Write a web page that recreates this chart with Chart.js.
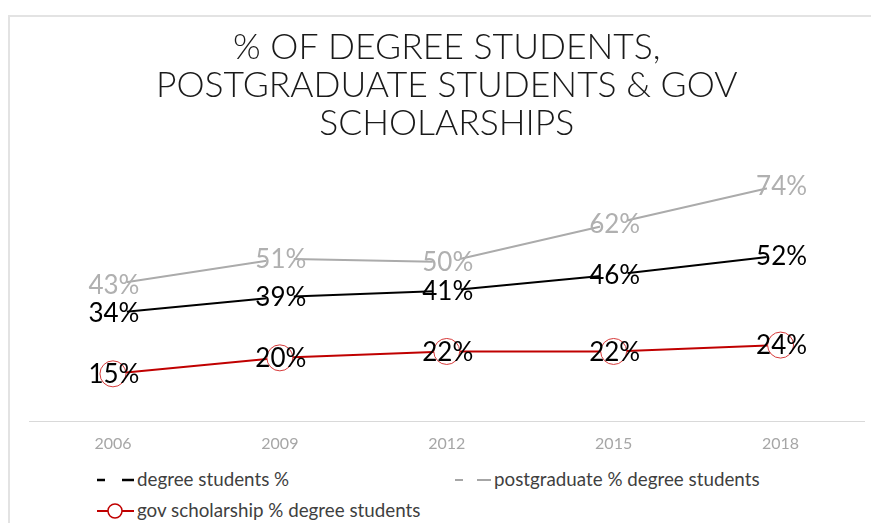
<!DOCTYPE html>
<html>
<head>
<meta charset="utf-8">
<script src="https://cdn.jsdelivr.net/npm/chart.js@4"></script>
<style>
	body { margin: 0; background: #fff; overflow: hidden; }
	#frame { position: absolute; left: 8px; top: 15px; width: 900px; height: 600px; border: 2px solid #e3e3e3; }
	#wrap { position: absolute; left: 0; top: 0; width: 878px; height: 465px; }
	.leg { position: absolute; font-family: Lato, sans-serif; font-size: 18.8px; color: #3f3f3f; white-space: nowrap; line-height: 20px; }
	.leg svg { vertical-align: middle; margin-right: 3px; position: relative; top: -1px; }
</style>
</head>
<body>
<div id="frame"></div>
<div id="wrap"><canvas id="lineChart"></canvas></div>

<div class="leg" style="left:97px; top:469px;">
	<svg width="37" height="16"><line x1="0" y1="8" x2="8" y2="8" stroke="#000" stroke-width="2.5"/><line x1="25" y1="8" x2="37" y2="8" stroke="#000" stroke-width="2.5"/></svg>degree students %
</div>
<div class="leg" style="left:455px; top:469px;">
	<svg width="36" height="16"><line x1="0" y1="8" x2="8" y2="8" stroke="#a6a6a6" stroke-width="2"/><line x1="22" y1="8" x2="36" y2="8" stroke="#a6a6a6" stroke-width="2"/></svg>postgraduate % degree students
</div>
<div class="leg" style="left:97px; top:500px;">
	<svg width="37" height="16"><line x1="0" y1="8" x2="11" y2="8" stroke="#c00000" stroke-width="2"/><circle cx="18" cy="8" r="7" fill="#fff" stroke="#c00000" stroke-width="1.5"/><line x1="25" y1="8" x2="37" y2="8" stroke="#c00000" stroke-width="2"/></svg>gov scholarship % degree students
</div>

<script>
// data
const years = ["2006", "2009", "2012", "2015", "2018"];
const degreeStudents = [34, 39, 41, 46, 52];
const postgraduate = [43, 51, 50, 62, 74];
const govScholarship = [15, 20, 22, 22, 24];

const labelColors = ["#000000", "#b0b0b0", "#000000"];

// draws "xx%" centred on every point
const valueLabels = {
	id: "valueLabels",
	afterDatasetsDraw(chart) {
		const ctx = chart.ctx;
		ctx.save();
		ctx.font = "26px Lato";
		ctx.textAlign = "center";
		ctx.textBaseline = "middle";
		chart.data.datasets.forEach(function (ds, i) {
			ctx.fillStyle = labelColors[i];
			chart.getDatasetMeta(i).data.forEach(function (pt, j) {
				ctx.fillText(ds.data[j] + "%", pt.x + 1, pt.y + 1);
			});
		});
		ctx.restore();
	},
};

const ctxLine = document.getElementById("lineChart").getContext("2d");

new Chart(ctxLine, {
	type: "line",
	data: {
		labels: years,
		datasets: [
			{
				label: "degree students %",
				data: degreeStudents,
				borderColor: "#000000",
				borderWidth: 2,
				pointRadius: 14,
				pointBackgroundColor: "#ffffff",
				pointBorderColor: "rgba(0,0,0,0)",
				pointBorderWidth: 0,
			},
			{
				label: "postgraduate % degree students",
				data: postgraduate,
				borderColor: "#ababab",
				borderWidth: 2,
				pointRadius: 14,
				pointBackgroundColor: "#ffffff",
				pointBorderColor: "rgba(0,0,0,0)",
				pointBorderWidth: 0,
			},
			{
				label: "gov scholarship % degree students",
				data: govScholarship,
				borderColor: "#c00000",
				borderWidth: 2,
				pointRadius: 13,
				pointBackgroundColor: "#ffffff",
				pointBorderColor: "#d63a3a",
				pointBorderWidth: 1,
			},
		],
	},
	options: {
		responsive: true,
		maintainAspectRatio: false,
		animation: false,
		layout: { padding: { left: 29.5, right: 0, top: 0, bottom: 0 } },
		plugins: {
			legend: { display: false },
			tooltip: { enabled: false },
			title: {
				display: true,
				fullSize: false,
				text: ["% OF DEGREE STUDENTS,", "POSTGRADUATE STUDENTS & GOV", "SCHOLARSHIPS"],
				color: "#1a1a1a",
				font: { family: "Lato", size: 35.5, weight: "300", lineHeight: 1.08 },
				padding: { top: 28, bottom: 23 },
			},
		},
		scales: {
			x: {
				offset: true,
				grid: { display: false, drawTicks: false },
				border: { color: "#d9d9d9", width: 1 },
				ticks: { color: "#a6a6a6", font: { family: "Lato", size: 16 }, padding: 12 },
			},
			y: {
				display: false,
				min: 0,
				max: 80,
			},
		},
	},
	plugins: [valueLabels],
});
</script>
</body>
</html>
